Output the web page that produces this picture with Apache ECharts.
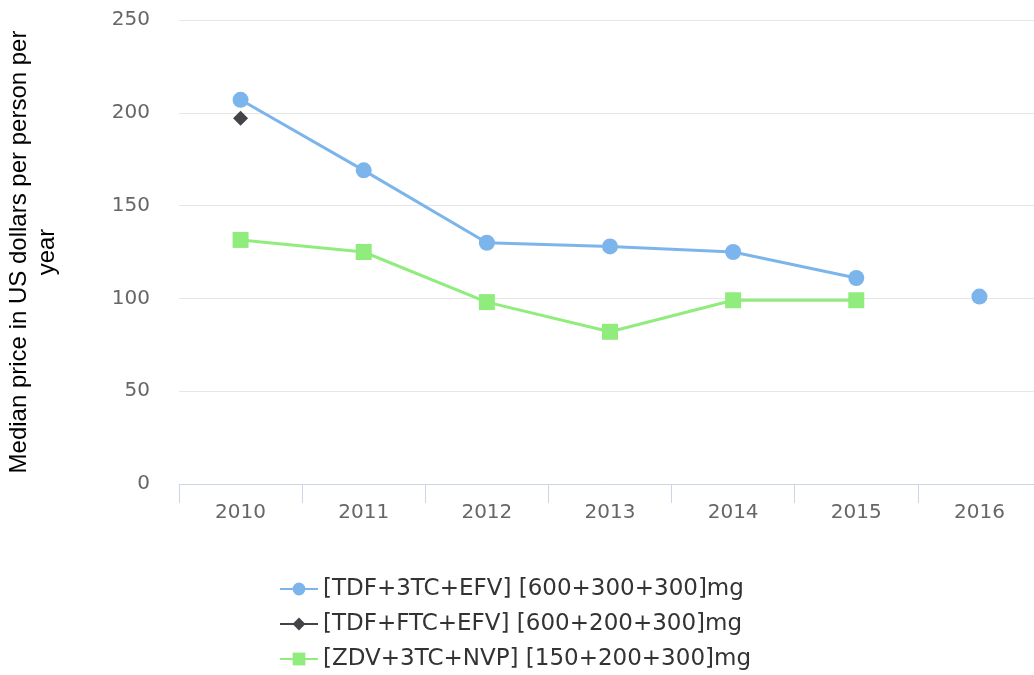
<!DOCTYPE html>
<html>
<head>
<meta charset="utf-8">
<script src="https://cdn.jsdelivr.net/npm/echarts@6/dist/echarts.min.js"></script>
<style>
html,body{margin:0;padding:0;background:#fff;}
#chart{width:1034px;height:675px;}
</style>
</head>
<body>
<div id="chart"></div>
<script>
var years = ['2010','2011','2012','2013','2014','2015','2016'];
var tdf3tc = [207, 169, 130, 128, 125, 111, null];
var tdf3tcLast = [null, null, null, null, null, null, 101];
var tdfFtc = [197, null, null, null, null, null, null];
var zdv = [131.5, 125, 98, 82, 99, 99, null];
var names = ['[TDF+3TC+EFV] [600+300+300]mg','[TDF+FTC+EFV] [600+200+300]mg','[ZDV+3TC+NVP] [150+200+300]mg'];

var blue = '#7cb5ec', dark = '#434348', green = '#90ed7d';
var labelFont = 'DejaVu Sans';

var options = {
    animation: false,
    grid: {left: 179, right: -7, top: 20, bottom: 191, containLabel: false, outerBoundsMode: 'none'},
    legend: {
        orient: 'vertical',
        left: 274,
        top: 571,
        height: 110,
        itemWidth: 38,
        itemHeight: 16,
        itemGap: 9,
        data: names,
        textStyle: {fontSize: 23, color: '#333', fontFamily: labelFont, lineHeight: 26}
    },
    xAxis: {
        type: 'category',
        data: years,
        boundaryGap: true,
        axisLine: {lineStyle: {color: '#ccd6eb', width: 1}},
        axisTick: {show: true, length: 19, lineStyle: {color: '#ccd6eb'}},
        axisLabel: {color: '#666', fontSize: 20, fontFamily: labelFont, margin: 19}
    },
    yAxis: {
        type: 'value',
        min: 0,
        max: 250,
        interval: 50,
        name: 'Median price in US dollars per person per\nyear',
        nameLocation: 'middle',
        nameRotate: 90,
        nameGap: 118,
        nameTextStyle: {fontSize: 24, color: '#000', fontFamily: 'Liberation Sans', lineHeight: 28},
        axisLine: {show: false},
        axisTick: {show: false},
        axisLabel: {color: '#666', fontSize: 20, fontFamily: labelFont, margin: 29},
        splitLine: {lineStyle: {color: '#e6e6e6', width: 1}}
    },
    series: [
        {
            name: names[0], type: 'line', data: tdf3tc,
            symbol: 'circle', symbolSize: 16,
            itemStyle: {color: blue}, lineStyle: {color: blue, width: 3}
        },
        {
            name: names[1], type: 'line', data: tdfFtc,
            symbol: 'diamond', symbolSize: 15,
            itemStyle: {color: dark}, lineStyle: {color: dark, width: 3}
        },
        {
            name: names[2], type: 'line', data: zdv,
            symbol: 'rect', symbolSize: 16,
            itemStyle: {color: green}, lineStyle: {color: green, width: 3}
        },
        {
            name: 'extra', type: 'line', data: tdf3tcLast,
            symbol: 'circle', symbolSize: 16,
            itemStyle: {color: blue}, lineStyle: {color: blue, width: 3}
        }
    ]
};

var myChart = echarts.init(document.getElementById('chart'));
myChart.setOption(options);
</script>
</body>
</html>
